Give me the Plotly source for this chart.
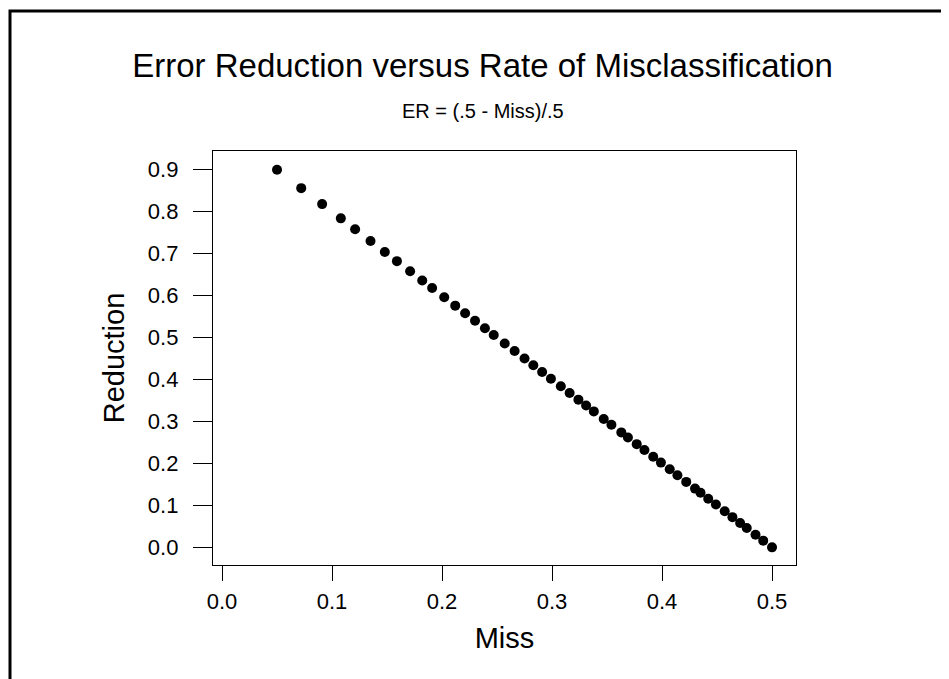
import plotly.graph_objects as go

# Values
miss = [0.050, 0.072, 0.091, 0.108, 0.121, 0.135, 0.148, 0.159, 0.171, 0.182,
        0.191, 0.202, 0.212, 0.221, 0.230, 0.239, 0.247, 0.257, 0.266, 0.275,
        0.283, 0.291, 0.299, 0.308, 0.316, 0.324, 0.331, 0.338, 0.347, 0.354,
        0.363, 0.369, 0.377, 0.384, 0.392, 0.399, 0.407, 0.414, 0.422, 0.430,
        0.435, 0.442, 0.449, 0.457, 0.464, 0.471, 0.477, 0.485, 0.492, 0.500]
reduction = [0.900, 0.856, 0.818, 0.784, 0.758, 0.730, 0.704, 0.682, 0.658, 0.636,
             0.618, 0.596, 0.576, 0.558, 0.540, 0.522, 0.506, 0.486, 0.468, 0.450,
             0.434, 0.418, 0.402, 0.384, 0.368, 0.352, 0.338, 0.324, 0.306, 0.292,
             0.274, 0.262, 0.246, 0.232, 0.216, 0.202, 0.186, 0.172, 0.156, 0.140,
             0.130, 0.116, 0.102, 0.086, 0.072, 0.058, 0.046, 0.030, 0.016, 0.000]
x_ticks = [0.0, 0.1, 0.2, 0.3, 0.4, 0.5]
y_ticks = [0.0, 0.1, 0.2, 0.3, 0.4, 0.5, 0.6, 0.7, 0.8, 0.9]

title_text = "Error Reduction versus Rate of Misclassification"
subtitle_text = "ER = (.5 - Miss)/.5"
x_title = "Miss"
y_title = "Reduction"

FONT = "Liberation Sans, Arial, sans-serif"

fig = go.Figure()
fig.add_trace(go.Scatter(
    x=miss, y=reduction, mode="markers",
    marker=dict(color="black", size=10, line=dict(width=0)),
    showlegend=False,
))

axis_common = dict(
    showline=True, linecolor="black", linewidth=1.3, mirror=True,
    ticks="outside", tickcolor="black", tickwidth=1.3,
    showgrid=False, zeroline=False, tickformat=".1f",
    tickfont=dict(family=FONT, size=22, color="black"),
)

fig.update_layout(
    width=949, height=679,
    margin=dict(l=205, r=161, t=143, b=122),
    paper_bgcolor="white", plot_bgcolor="white",
    font=dict(family=FONT, color="black"),
    title=dict(text=title_text, x=0.5, xref="container", y=1 - 57 / 679,
               yref="container", xanchor="center", yanchor="middle",
               font=dict(family=FONT, size=33, color="black")),
    xaxis=dict(range=[-0.0082, 0.5218], tickvals=x_ticks, ticklen=15,
               ticklabelstandoff=1,
               title=dict(text=x_title, standoff=15,
                          font=dict(family=FONT, size=29, color="black")),
               **axis_common),
    yaxis=dict(range=[-0.042, 0.9445], tickvals=y_ticks, ticklen=19,
               ticklabelstandoff=10,
               title=dict(text=y_title, standoff=14,
                          font=dict(family=FONT, size=29, color="black")),
               **axis_common),
    annotations=[dict(text=subtitle_text, xref="paper", yref="paper",
                      x=(475 - 205) / 583, y=(557 - 103) / 414,
                      xanchor="center", yanchor="middle", showarrow=False,
                      font=dict(family=FONT, size=20, color="black"))],
    shapes=[dict(type="rect", xref="paper", yref="paper",
                 x0=(2 - 205) / 583, x1=(946 - 205) / 583,
                 y0=(557 - 677) / 414, y1=(557 - 3) / 414,
                 line=dict(color="black", width=3), layer="above")],
)

fig.write_html("out.html")
